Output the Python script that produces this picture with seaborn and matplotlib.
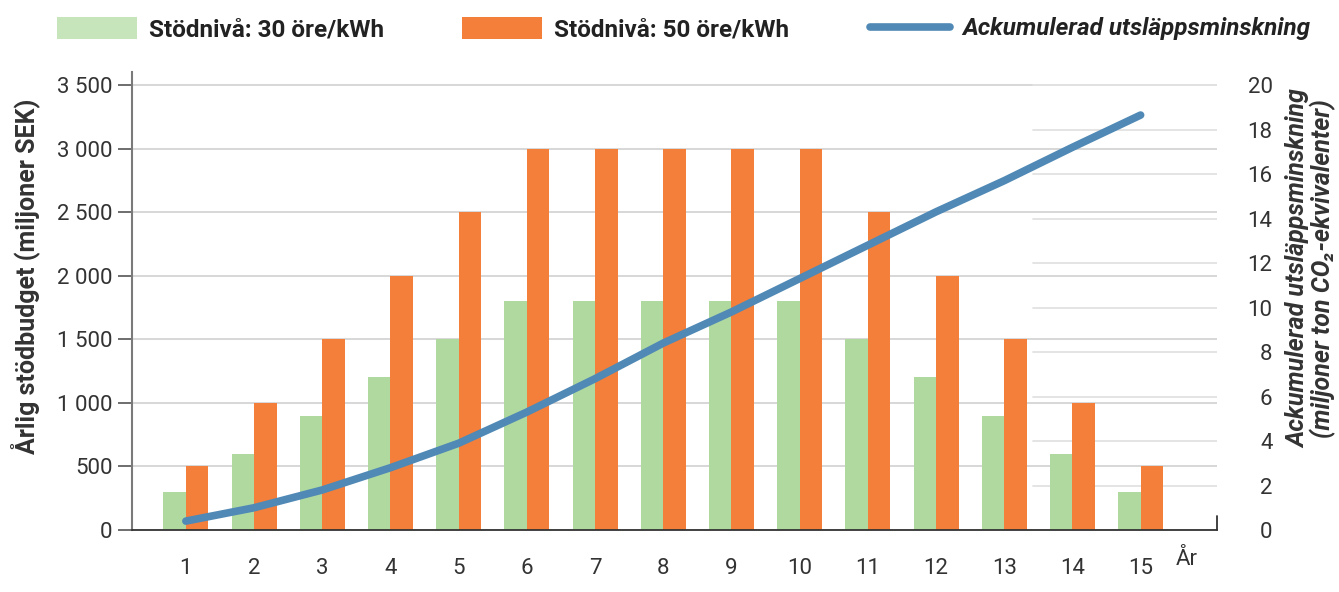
import matplotlib
matplotlib.use("Agg")
import matplotlib.pyplot as plt
import matplotlib.transforms as mtransforms
import seaborn as sns
import pandas as pd
import numpy as np
from matplotlib.patches import Patch
from matplotlib.lines import Line2D
from matplotlib.ticker import FuncFormatter

years = [str(i) for i in range(1, 16)]
stod_30 = [300, 600, 900, 1200, 1500, 1800, 1800, 1800, 1800, 1800, 1500, 1200, 900, 600, 300]
stod_50 = [500, 1000, 1500, 2000, 2500, 3000, 3000, 3000, 3000, 3000, 2500, 2000, 1500, 1000, 500]
ack_utslapp = [0.4, 1.0, 1.8, 2.8, 3.9, 5.3, 6.8, 8.4, 9.8, 11.3, 12.8, 14.3, 15.7, 17.2, 18.65]
label_30 = "Stödnivå: 30 öre/kWh"
label_50 = "Stödnivå: 50 öre/kWh"
label_line = "Ackumulerad utsläppsminskning"
left_ticks = [0, 500, 1000, 1500, 2000, 2500, 3000, 3500]
right_ticks = [0, 2, 4, 6, 8, 10, 12, 14, 16, 18, 20]

c_green = "#b0d9a0"
c_green_leg = "#c6e5bb"
c_orange = "#f47f3a"
c_blue = "#5089b5"
c_text = "#333333"

sns.set_theme(style="white")
plt.rcParams['font.family'] = ['Roboto', 'DejaVu Sans']

df = pd.DataFrame({
    "År": years * 2,
    "värde": stod_30 + stod_50,
    "nivå": [label_30] * 15 + [label_50] * 15,
})

fig = plt.figure(figsize=(13.39, 5.92), dpi=100)
ax = fig.add_axes([132/1339, 1 - 530/592, (1217-132)/1339, (530-72.3)/592])

sns.barplot(data=df, x="År", y="värde", hue="nivå", palette=[c_green, c_orange],
            width=0.66, saturation=1, ax=ax, legend=False, edgecolor="none")

ymax_left = 3600
ymax_right = 20 * ymax_left / 3500
ax.set_ylim(0, ymax_left)
ax.set_xlim(-0.79, 15.12)
ax.set_yticks(left_ticks)
ax.yaxis.set_major_formatter(FuncFormatter(lambda v, p: f"{int(v):,}".replace(",", " ")))
ax.grid(axis="y", color="#d4d4d4", linewidth=1.3)
ax.set_axisbelow(True)
# faint gridlines of the right axis, behind the bars
for t in right_ticks[1:]:
    ax.axhline(t * ymax_left / ymax_right, xmin=0.83, xmax=1.0, color="#e2e2e2",
               linewidth=1.3, zorder=0.6)
for s in ["top", "right"]:
    ax.spines[s].set_visible(False)
ax.spines["left"].set_color("#7a7a7a")
ax.spines["left"].set_linewidth(1.5)
ax.spines["bottom"].set_color("#333333")
ax.spines["bottom"].set_linewidth(1.3)
tick_fs = 16
ax.tick_params(axis="y", which="major", left=True, length=10, width=1.2, color="#555555",
               labelsize=tick_fs, labelcolor=c_text, pad=4)
ax.tick_params(axis="x", bottom=False, labelsize=tick_fs, labelcolor=c_text, pad=14)
ax.set_xlabel("")
ax.set_ylabel("Årlig stödbudget (miljoner SEK)", fontsize=18, fontweight="bold",
              color=c_text)
ax.yaxis.label.set_va("center")
ax.yaxis.set_label_coords((25 - 132) / 1085, 0.555)

ar_trans = mtransforms.offset_copy(ax.get_xaxis_transform(), fig=fig, y=-14, units="points")
ax.text(14.68, 0, "År", transform=ar_trans, ha="center", va="top",
        fontsize=tick_fs, color=c_text)

# small tick at right end of bottom axis
ax.plot([1, 1], [0, 14/457.7], transform=ax.transAxes, color="#333333", lw=1.3, clip_on=False)

ax2 = ax.twinx()
ax2.set_ylim(0, ymax_right)
ax2.set_yticks(right_ticks)
sns.lineplot(x=np.arange(15), y=ack_utslapp, ax=ax2, color=c_blue, linewidth=5.5,
             solid_capstyle="round", solid_joinstyle="round")
for s in ["top", "right", "left", "bottom"]:
    ax2.spines[s].set_visible(False)
ax2.tick_params(axis="y", right=False, labelsize=tick_fs, labelcolor=c_text, pad=34)
for lab in ax2.get_yticklabels():
    lab.set_horizontalalignment("right")
ax2.set_ylabel("Ackumulerad utsläppsminskning\n(miljoner ton CO₂-ekvivalenter)", fontsize=18,
               fontweight="bold", fontstyle="italic", color=c_text, linespacing=0.95)
ax2.yaxis.label.set_va("center")
ax2.yaxis.set_label_coords((1311 - 132) / 1085, 0.572)
ax2.grid(False)

# legends
fs = 17.5
common = dict(loc="center left", frameon=False, handlelength=3.3, handletextpad=0.5,
              borderaxespad=0, borderpad=0)
leg1 = fig.legend(handles=[Patch(facecolor=c_green_leg, edgecolor="none", label=label_30)],
                  bbox_to_anchor=(57/1339, 1 - 29/592), handleheight=1.0,
                  prop={"size": fs, "weight": "bold"}, **common)
leg2 = fig.legend(handles=[Patch(facecolor=c_orange, edgecolor="none", label=label_50)],
                  bbox_to_anchor=(462/1339, 1 - 29/592), handleheight=1.0,
                  prop={"size": fs, "weight": "bold"}, **common)
leg3 = fig.legend(handles=[Line2D([0], [0], color=c_blue, lw=5.5, solid_capstyle="round", label=label_line)],
                  bbox_to_anchor=(870/1339, 1 - 29/592),
                  prop={"size": fs, "weight": "bold", "style": "italic"}, **common)
for lg in (leg1, leg2, leg3):
    for t in lg.get_texts():
        t.set_color("#222222")

fig.savefig("out.png", dpi=100)
